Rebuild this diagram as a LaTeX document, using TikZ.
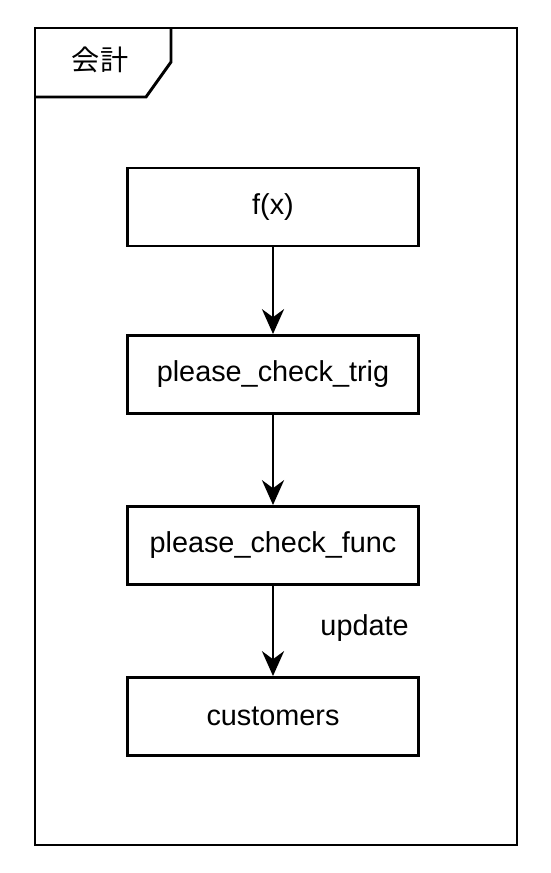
\documentclass[tikz,border=0pt]{standalone}
\usepackage{fontspec}
\setmainfont{Liberation Sans}
\newfontfamily\jpfont{Noto Sans CJK JP}
\usetikzlibrary{positioning, arrows.meta}
\tikzset{
	stepbox/.style={draw, line width=2.1pt, minimum width=7.25cm, minimum height=1.95cm, font=\fontsize{20.5}{24}\selectfont}
}
\tikzset{
	flowarrow/.style={line width=2.1pt, -{Stealth[length=0.62cm, width=0.55cm, inset=0.2cm]}}
}
\newcommand{\lbltext}[1]{\fontsize{20.5}{24}\selectfont #1}

\begin{document}
\begin{tikzpicture}[x=0.025cm, y=-0.025cm]
      \useasboundingbox (0,0) rectangle (551,873);
      % frame with its tab
      \draw[line width=2.1pt] (35,28) rectangle (517,845);
      \draw[line width=2.1pt] (35,97) -- (146,97) -- (171,62) -- (171,28);
      \node (frametitle) at (100,60) {\jpfont\fontsize{20}{24}\selectfont 会計};
      % the four boxes
      \node[stepbox] (fx) at (273,207) {f(x)};
      \node[stepbox] (trig) at (273,374.5) {please\_check\_trig};
      \node[stepbox] (func) at (273,545.5) {please\_check\_func};
      \node[stepbox] (cust) at (273,716.5) {customers};
      \draw[flowarrow] (fx) -- (trig);
      \draw[flowarrow] (trig) -- (func);
      \draw[flowarrow] (func) -- (cust) node[midway, right=1.15cm, inner sep=0, yshift=0.07cm] {\lbltext{update}};
    \end{tikzpicture}
\end{document}
